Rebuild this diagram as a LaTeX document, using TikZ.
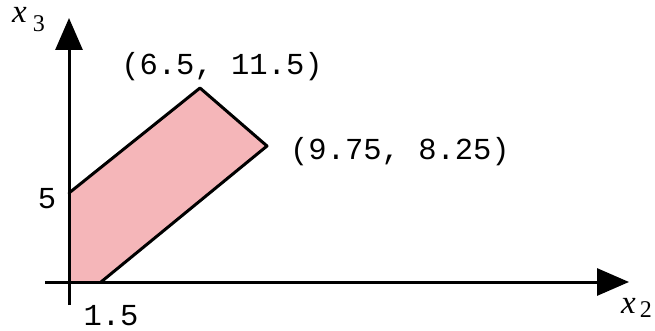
\documentclass[tikz,border=0pt]{standalone}
\usepackage{fontspec}
\setmainfont{Liberation Serif}
\setmonofont{Liberation Mono}
\usetikzlibrary{arrows.meta}
\definecolor{regionpink}{HTML}{F5B6B9}
\tikzset{
  axis/.style={line width=3pt,-{Triangle[length=32pt,width=27pt]}},
  edgeline/.style={line width=3pt,line join=round,line cap=round},
  lbl/.style={font=\fontsize{30.5}{30.5}\selectfont\ttfamily,inner sep=0pt,anchor=base},
  axlbl/.style={font=\fontsize{33}{33}\selectfont\itshape,inner sep=0pt,anchor=base west}
}
\begin{document}
\begin{tikzpicture}[x=1pt,y=-1pt]
\useasboundingbox (0,0) rectangle (655,331);
% vertices
\coordinate (o) at (69,282);
\coordinate (a) at (69,193);
\coordinate (b) at (200,88);
\coordinate (c) at (267,146);
\coordinate (d) at (101,282);
% axis ends
\coordinate (vb) at (69,305);
\coordinate (vt) at (69,18);
\coordinate (hl) at (45,282);
\coordinate (hr) at (629,282);
% region
\fill[regionpink] (o) -- (a) -- (b) -- (c) -- (d) -- cycle;
\draw[edgeline] (a) -- (b) -- (c) -- (d);
% axes
\draw[axis] (vb) -- (vt);
\draw[axis] (hl) -- (hr);
% labels
\node[lbl] (lb) at (222,75) {(6.5, 11.5)};
\node[lbl] (lc) at (400,160) {(9.75, 8.25)};
\node[lbl] (l5) at (47,208) {5};
\node[lbl] (l15) at (111,325) {1.5};
\node[axlbl] (x3) at (12,23) {x\hspace{6pt}\raisebox{-9pt}{\fontsize{24}{24}\selectfont\upshape 3}};
\node[axlbl] (x2) at (621,313) {x\hspace{4pt}\raisebox{-4pt}{\fontsize{24}{24}\selectfont\upshape 2}};
\end{tikzpicture}
\end{document}
